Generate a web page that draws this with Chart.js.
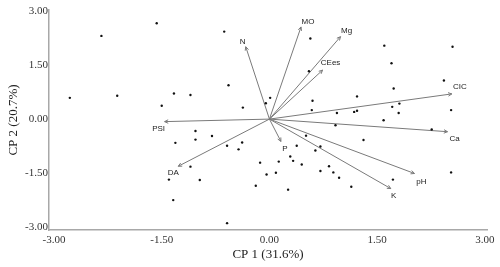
<!DOCTYPE html>
<html>
<head>
<meta charset="utf-8">
<script src="https://cdn.jsdelivr.net/npm/chart.js@4.4.1/dist/chart.umd.min.js"></script>
<style>
  html, body { margin: 0; padding: 0; background: #fff; }
  #wrap { width: 500px; height: 267px; }
</style>
</head>
<body>
<div id="wrap"><canvas id="pca"></canvas></div>
<script>
// axis ticks
const xTicks = [-3, -1.5, 0, 1.5, 3];
const yTicks = [-3, -1.5, 0, 1.5, 3];

// sample scores (CP1, CP2)
const scoreX = [-2.78, -2.34, -1.57, -2.12, -1.50, -0.63, 0.57, 0.55, -0.57, -1.33,
  -1.10, -0.37, 0.01, -0.05, 0.60, 0.59, -1.03, 1.60, 2.55, 1.70,
  2.43, 1.73, 1.22, 1.71, 1.81, 0.94, 1.18, 1.22, 1.80, 2.53,
  1.59, 0.92, 2.26, -0.80, -1.31, -1.03, -0.59, -0.38, -0.43, -1.10,
  -1.40, -0.97, -1.34, -0.59, -0.13, -0.04, -0.19, 0.13, 0.09, 0.26,
  0.38, 0.29, 0.33, 0.45, 0.51, 0.64, 0.71, 0.71, 0.83, 1.31,
  0.89, 0.97, 1.14, 1.72, 2.53];
const scoreY = [0.59, 2.31, 2.66, 0.65, 0.37, 2.43, 2.24, 1.33, 0.94, 0.71,
  0.67, 0.32, 0.59, 0.44, 0.51, 0.25, -0.33, 2.04, 2.01, 1.55,
  1.07, 0.85, 0.63, 0.34, 0.43, 0.17, 0.20, 0.23, 0.17, 0.25,
  -0.03, -0.17, -0.29, -0.47, -0.66, -0.57, -0.74, -0.65, -0.84, -1.32,
  -1.68, -1.69, -2.25, -2.89, -1.21, -1.54, -1.85, -1.18, -1.49, -1.96,
  -0.74, -1.04, -1.16, -1.26, -0.46, -0.87, -0.76, -1.44, -1.31, -0.58,
  -1.48, -1.63, -1.88, -1.68, -1.48];

// variable loadings (vector tips)
const varNames = ['MO', 'N', 'Mg', 'CEes', 'CIC', 'Ca', 'pH', 'K', 'P', 'DA', 'PSI'];
const varX = [0.44, -0.33, 0.99, 0.74, 2.54, 2.48, 2.02, 1.69, 0.16, -1.27, -1.46];
const varY = [2.56, 2.01, 2.29, 1.36, 0.70, -0.35, -1.51, -1.93, -0.62, -1.31, -0.07];

// where each label sits relative to its arrow tip (px)
const labelShift = {
  MO: [7, -5], N: [-3, -5], Mg: [6, -6], CEes: [8, -7], CIC: [8, -7],
  Ca: [7, 7], pH: [7, 8], K: [3, 7], P: [4, 7], DA: [-5, 7], PSI: [-6, 7]
};

const serif = "'Liberation Serif', 'Times New Roman', serif";

const datasets = [{
  label: 'scores',
  data: scoreX.map((x, i) => ({ x: x, y: scoreY[i] })),
  pointRadius: 1.2,
  pointBackgroundColor: '#111',
  pointBorderWidth: 0,
  showLine: false
}];

varNames.forEach((name, i) => {
  datasets.push({
    label: name,
    data: [{ x: 0, y: 0 }, { x: varX[i], y: varY[i] }],
    showLine: true,
    borderColor: '#7a7a7a',
    borderWidth: 1,
    pointRadius: 0
  });
});

// arrow heads + variable names
const vectorLabels = {
  id: 'vectorLabels',
  afterDatasetsDraw(chart) {
    const ctx = chart.ctx;
    const xs = chart.scales.x, ys = chart.scales.y;
    const ox = xs.getPixelForValue(0), oy = ys.getPixelForValue(0);
    ctx.save();
    varNames.forEach((name, i) => {
      const px = xs.getPixelForValue(varX[i]);
      const py = ys.getPixelForValue(varY[i]);
      const ang = Math.atan2(py - oy, px - ox);
      ctx.strokeStyle = '#7a7a7a';
      ctx.lineWidth = 1;
      ctx.beginPath();
      ctx.moveTo(px - 4 * Math.cos(ang - 0.45), py - 4 * Math.sin(ang - 0.45));
      ctx.lineTo(px, py);
      ctx.lineTo(px - 4 * Math.cos(ang + 0.45), py - 4 * Math.sin(ang + 0.45));
      ctx.stroke();
      const s = labelShift[name];
      ctx.fillStyle = '#222';
      ctx.font = "8px 'Liberation Sans', Arial, sans-serif";
      ctx.textAlign = 'center';
      ctx.textBaseline = 'middle';
      ctx.fillText(name, px + s[0], py + s[1]);
    });
    ctx.restore();
  }
};

new Chart(document.getElementById('pca'), {
  type: 'scatter',
  data: { datasets },
  plugins: [vectorLabels],
  options: {
    responsive: true,
    maintainAspectRatio: false,
    animation: false,
    layout: { padding: { top: 10, right: 13, left: 0, bottom: 0 } },
    plugins: { legend: { display: false }, tooltip: { enabled: false } },
    scales: {
      x: {
        type: 'linear',
        min: -3.07,
        max: 3.03,
        afterBuildTicks: (scale) => { scale.ticks = xTicks.map(v => ({ value: v })); },
        afterFit: (scale) => { scale.height = 37; },
        ticks: {
          callback: (v) => v.toFixed(2),
          font: { family: serif, size: 11 },
          color: '#333',
          padding: 4,
          maxRotation: 0,
          autoSkip: false
        },
        grid: { display: false, drawTicks: false },
        border: { color: '#a8a8a8', width: 1.5 },
        title: {
          display: true,
          text: 'CP 1 (31.6%)',
          font: { family: serif, size: 13 },
          color: '#222',
          padding: { top: 0, bottom: 5 }
        }
      },
      y: {
        type: 'linear',
        min: -3.08,
        max: 3.03,
        afterBuildTicks: (scale) => { scale.ticks = yTicks.map(v => ({ value: v })); },
        afterFit: (scale) => { scale.width = 49; },
        ticks: {
          callback: (v) => v.toFixed(2),
          font: { family: serif, size: 11 },
          color: '#333',
          padding: 1,
          autoSkip: false
        },
        grid: { display: false, drawTicks: false },
        border: { color: '#a8a8a8', width: 1.5 },
        title: {
          display: true,
          text: 'CP 2 (20.7%)',
          font: { family: serif, size: 13 },
          color: '#222',
          padding: { top: 6, bottom: 0 }
        }
      }
    }
  }
});
</script>
</body>
</html>
